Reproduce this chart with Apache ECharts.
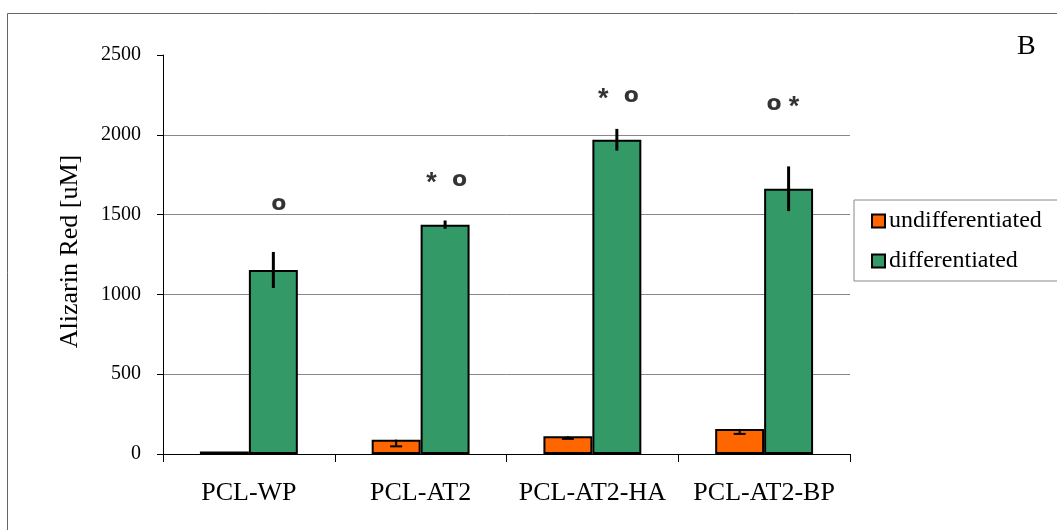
<!DOCTYPE html>
<html>
<head>
<meta charset="utf-8">
<script src="https://cdn.jsdelivr.net/npm/echarts@6/dist/echarts.min.js"></script>
<style>html,body{margin:0;padding:0;background:#fff}#c{width:1057px;height:530px}</style>
</head>
<body>
<div id="c"></div>
<script>
var categories = ['PCL-WP', 'PCL-AT2', 'PCL-AT2-HA', 'PCL-AT2-BP'];
var undiffValues = [15, 90, 111, 157];
var undiffErrors = [0, 42, 16, 31];
var diffValues = [1153, 1437, 1969, 1662];
var diffErrors = [113, 26, 68, 140];
var circleY = [1562, 1714, 2241, 2189];
var asteriskY = [null, 1714, 2241, 2189];
var yTicks = [0, 500, 1000, 1500, 2000, 2500];

// layout-only horizontal offsets (px) of the significance marks from category centre
var circleDx = [30, 39, 39, 10];
var asteriskDx = [0, 11, 11, 30];

var SERIF = '"Liberation Serif", "Times New Roman", serif';
var BAR_FRAC = 0.285;

function errRender(side, capped) {
  return function (params, api) {
    var idx = api.value(0), v = api.value(1), e = api.value(2);
    if (!e) return null;
    var band = api.size([1, 0])[0];
    var bw = band * BAR_FRAC;
    var c = api.coord([idx, v]);
    var x = c[0] + side * bw / 2;
    var top = capped ? c[1] : api.coord([idx, v + e])[1];
    var bot = api.coord([idx, v - e])[1];
    var children = [{
      type: 'line', shape: {x1: x, y1: top, x2: x, y2: bot},
      style: {stroke: '#000', lineWidth: capped ? 2 : 3}
    }];
    if (capped) {
      children.push({type: 'line', shape: {x1: x - 6, y1: bot, x2: x + 6, y2: bot},
        style: {stroke: '#000', lineWidth: 2}});
    }
    return {type: 'group', children: children};
  };
}

function markData(ys, dxs, dy) {
  var out = [];
  for (var i = 0; i < ys.length; i++) {
    if (ys[i] == null) continue;
    out.push({value: [i, ys[i]], label: {offset: [dxs[i], dy]}});
  }
  return out;
}

var chart = echarts.init(document.getElementById('c'), null, {renderer: 'canvas'});
var option = {
  animation: false,
  backgroundColor: '#fff',
  grid: {left: 163, right: 207, top: 55, bottom: 76, containLabel: false},
  legend: {
    orient: 'vertical',
    left: 854, top: 200,
    padding: [9, 30, 8, 17],
    itemGap: 16,
    itemWidth: 13, itemHeight: 13,
    borderColor: '#888', borderWidth: 1,
    icon: 'rect',
    textStyle: {fontFamily: SERIF, fontSize: 24, color: '#000', padding: [0, 0, 0, -1]},
    data: ['undifferentiated', 'differentiated']
  },
  xAxis: {
    type: 'category',
    data: categories,
    axisLine: {lineStyle: {color: '#000', width: 1}},
    axisTick: {show: true, interval: 0, length: 8, lineStyle: {color: '#000'}},
    axisLabel: {interval: 0, fontFamily: SERIF, fontSize: 26, color: '#000', margin: 26}
  },
  yAxis: {
    type: 'value',
    min: 0, max: 2500, interval: 500,
    name: 'Alizarin Red [uM]',
    nameLocation: 'middle',
    nameGap: 80,
    nameTextStyle: {fontFamily: SERIF, fontSize: 26, color: '#000', padding: [0, 0, 0, 6]},
    axisLine: {show: true, lineStyle: {color: '#000', width: 1}},
    axisTick: {show: true, length: 6, lineStyle: {color: '#000'}},
    axisLabel: {fontFamily: SERIF, fontSize: 20, color: '#000', margin: 22,
      formatter: function (v) { return yTicks.indexOf(v) >= 0 ? String(v) : ''; }},
    splitLine: {show: true, showMinLine: false, showMaxLine: false, lineStyle: {color: '#888', width: 1}}
  },
  graphic: [
    {type: 'rect', silent: true, z: -1,
      shape: {x: 7.5, y: 13.5, width: 1200, height: 700},
      style: {fill: 'none', stroke: '#666', lineWidth: 1}},
    {type: 'text', left: 1017, top: 33, silent: true,
      style: {text: 'B', font: '28px ' + SERIF, fill: '#000'}}
  ],
  series: [
    {
      name: 'undifferentiated', type: 'bar', data: undiffValues,
      barWidth: (BAR_FRAC * 100) + '%', barGap: '0%',
      itemStyle: {color: '#FF6600', borderColor: '#000', borderWidth: 2}
    },
    {
      name: 'differentiated', type: 'bar', data: diffValues,
      barWidth: (BAR_FRAC * 100) + '%', barGap: '0%',
      itemStyle: {color: '#339966', borderColor: '#000', borderWidth: 2}
    },
    {
      type: 'custom', z: 5, renderItem: errRender(-1, true),
      data: undiffValues.map(function (v, i) { return [i, v, undiffErrors[i]]; })
    },
    {
      type: 'custom', z: 5, renderItem: errRender(1, false),
      data: diffValues.map(function (v, i) { return [i, v, diffErrors[i]]; })
    },
    {
      type: 'scatter', symbolSize: 0, z: 6,
      data: markData(circleY, circleDx, 0),
      label: {show: true, position: 'inside', formatter: 'o',
        fontFamily: '"DejaVu Sans", sans-serif', fontWeight: 'bold',
        fontSize: 22, color: '#000', textBorderWidth: 0}
    },
    {
      type: 'scatter', symbolSize: 0, z: 6,
      data: markData(asteriskY, asteriskDx, 3),
      label: {show: true, position: 'inside', formatter: '*',
        fontFamily: '"Liberation Sans", Arial, sans-serif', fontWeight: 'bold',
        fontSize: 27, color: '#000', textBorderWidth: 0}
    }
  ]
};
chart.setOption(option);
</script>
</body>
</html>
